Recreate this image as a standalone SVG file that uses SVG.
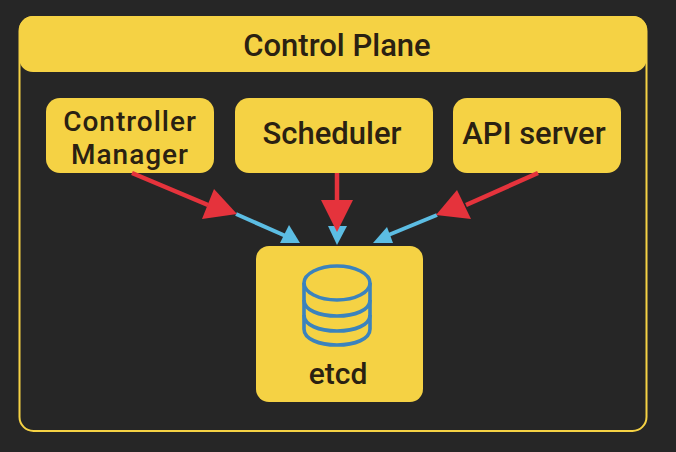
<svg xmlns="http://www.w3.org/2000/svg" width="676" height="452" viewBox="0 0 676 452">
<style>
.box{fill:#f5d244}
text{font-family:Roboto,"Noto Sans",sans-serif;font-weight:500;fill:#2a2112;text-anchor:middle;font-size:31px}
.tight{font-size:28px;letter-spacing:1px}
.red{stroke:#e5333c;stroke-width:4.500;fill:none}
.blue{stroke:#5cbde3;stroke-width:4;fill:none}
.rh{fill:#e5333c}
.bh{fill:#5cbde3}
.db{fill:none;stroke:#3b83bd;stroke-width:3.600}
</style>
<rect width="676" height="452" fill="#262626"/>
<g id="control-plane">
<rect x="19.500" y="17" width="627" height="414" rx="14" fill="none" stroke="#f5d244" stroke-width="2"/>
<rect class="box" x="19" y="16" width="628" height="56" rx="14"/>
<text x="337" y="56">Control Plane</text>
</g>
<g id="controller-manager">
<rect class="box" x="46" y="98" width="168" height="75" rx="14"/>
<text class="tight" x="130" y="131">Controller</text>
<text class="tight" x="130" y="164">Manager</text>
</g>
<g id="scheduler">
<rect class="box" x="235" y="98" width="198" height="75" rx="14"/>
<text x="332" y="144">Scheduler</text>
</g>
<g id="api-server">
<rect class="box" x="453" y="98" width="168" height="75" rx="14"/>
<text x="534" y="144">API server</text>
</g>
<g id="etcd">
<rect class="box" x="256" y="246" width="167" height="156" rx="13"/>
<g class="db">
<ellipse cx="337" cy="283" rx="33" ry="17"/>
<path d="M304 283V329C304 339 319 345 337 345S370 339 370 329V283"/>
<path d="M304 300C304 310 319 316 337 316S370 310 370 300"/>
<path d="M304 315C304 325 319 331 337 331S370 325 370 315"/>
</g>
<text x="338" y="384" style="font-size:30px">etcd</text>
</g>
<g id="connectors">
<path class="blue" d="M236 214L288 237"/>
<polygon class="bh" points="300,243 280,243 289,225"/>
<polygon class="bh" points="337,245 328,226 347,226"/>
<path class="blue" d="M437 215L386 236"/>
<polygon class="bh" points="373,243 387,227 393,243"/>
<path class="red" d="M132 173L208 205"/>
<polygon class="rh" points="237,214 202,219 214,189"/>
<path class="red" d="M337 173V202"/>
<polygon class="rh" points="337,232 321,200 353,200"/>
<path class="red" d="M538 173L466 205"/>
<polygon class="rh" points="436,215 457,190 471,219"/>
</g>
</svg>
